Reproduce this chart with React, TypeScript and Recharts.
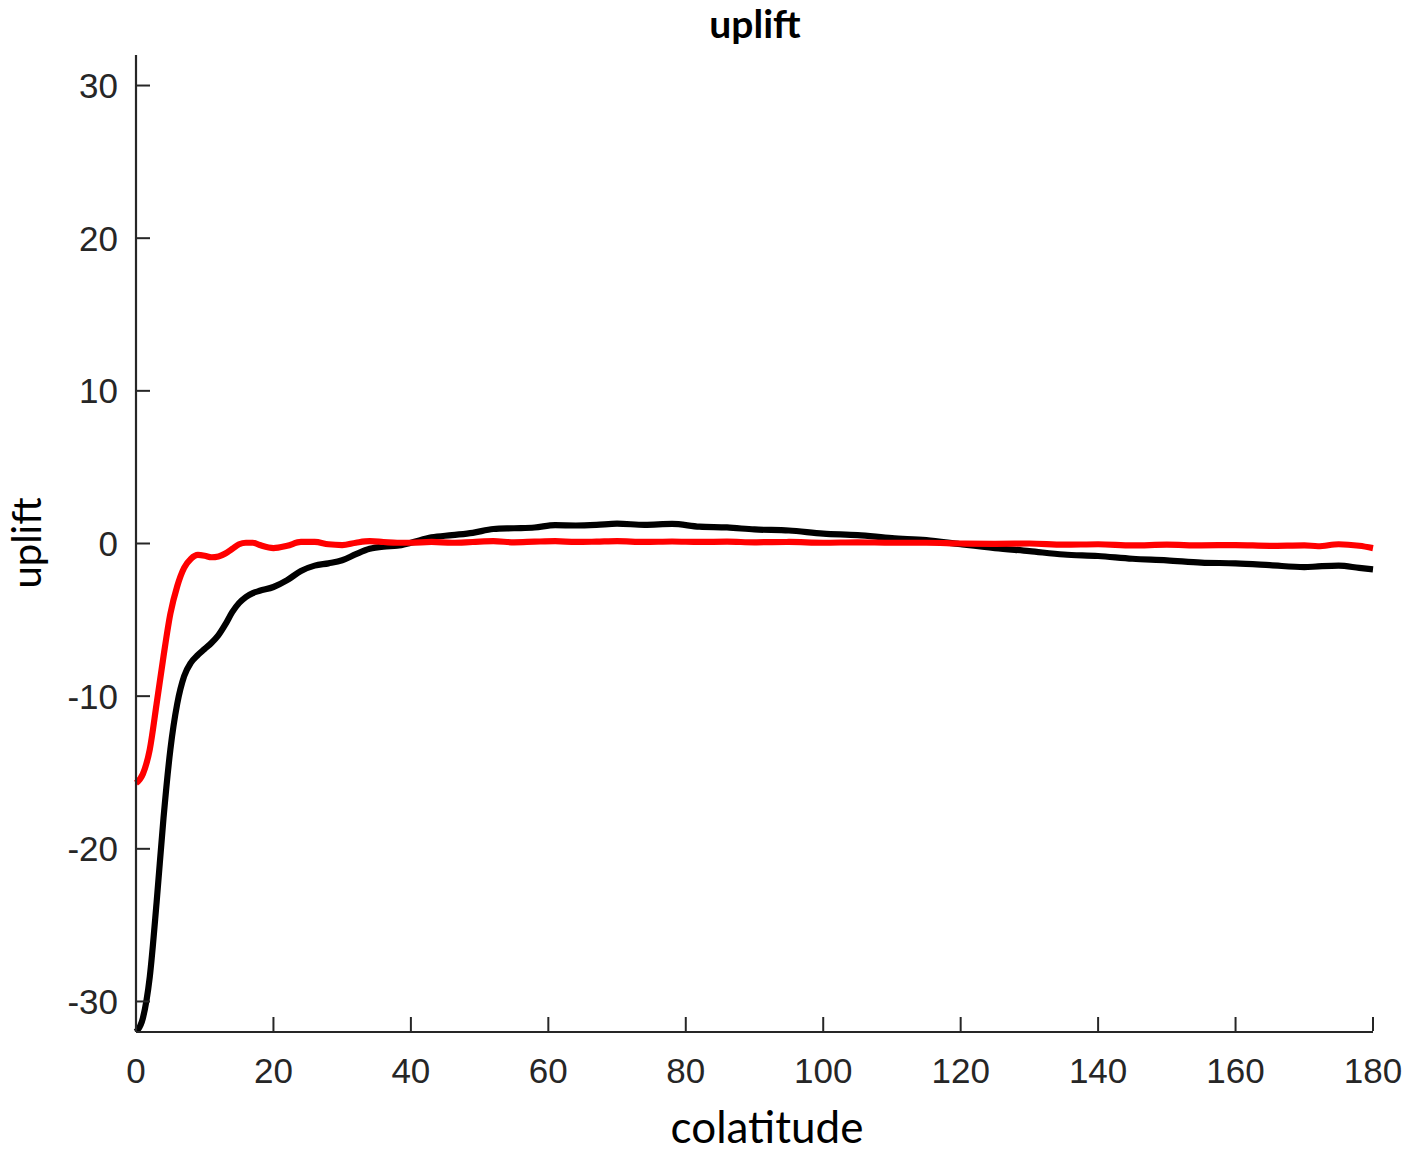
import { LineChart, Line, XAxis, YAxis } from "recharts";

// colatitude sample points (degrees)
const colat = [
  0, 1, 2, 3, 4, 5, 6, 7, 8, 9, 10, 11, 12, 13, 14, 15, 16, 17, 18, 20, 22, 24, 26, 28, 30,
  32, 34, 36, 38, 40, 43, 46, 49, 52, 55, 58, 61, 64, 67, 70, 74, 78, 82, 86, 90, 95, 100,
  105, 110, 115, 120, 125, 130, 135, 140, 145, 150, 155, 160, 165, 170, 172, 175, 178, 180,
];

// black curve
const upliftBlack = [
  -32.0, -31.1, -28.4, -23.5, -18.0, -13.5, -10.5, -8.7, -7.8, -7.3, -6.9, -6.5, -6.0, -5.3,
  -4.5, -3.9, -3.5, -3.25, -3.1, -2.85, -2.4, -1.8, -1.45, -1.3, -1.1, -0.7, -0.35, -0.2,
  -0.15, 0.05, 0.4, 0.55, 0.7, 0.95, 1.0, 1.05, 1.2, 1.18, 1.22, 1.3, 1.22, 1.28, 1.1, 1.05,
  0.92, 0.85, 0.65, 0.55, 0.35, 0.22, -0.05, -0.3, -0.5, -0.72, -0.82, -1.0, -1.1, -1.25,
  -1.3, -1.42, -1.55, -1.5, -1.45, -1.6, -1.7,
];

// red curve
const upliftRed = [
  -15.7, -15.1, -13.5, -10.5, -7.4, -4.6, -2.8, -1.6, -1.0, -0.75, -0.8, -0.9, -0.85, -0.65,
  -0.35, -0.05, 0.05, 0.05, -0.1, -0.3, -0.15, 0.1, 0.1, -0.05, -0.1, 0.05, 0.15, 0.1, 0.05,
  0.05, 0.1, 0.05, 0.1, 0.15, 0.08, 0.12, 0.15, 0.1, 0.12, 0.15, 0.1, 0.13, 0.1, 0.12, 0.08,
  0.1, 0.05, 0.08, 0.05, 0.05, 0.0, -0.02, 0.0, -0.08, -0.05, -0.12, -0.08, -0.12, -0.1,
  -0.15, -0.12, -0.18, -0.05, -0.15, -0.3,
];

const xTicks = [0, 20, 40, 60, 80, 100, 120, 140, 160, 180];
const yTicks = [-30, -20, -10, 0, 10, 20, 30];

const data = colat.map((c, i) => ({ colat: c, black: upliftBlack[i], red: upliftRed[i] }));

const AXIS = "#262626";
const TICK_FONT = "'Liberation Sans', Arial, Helvetica, sans-serif";
const LABEL_FONT = "Lato, 'Open Sans', sans-serif";

// MATLAB style: tick marks point into the plot
const YTick = (props: any) => {
  const { x, y, payload } = props;
  return (
    <g>
      <line x1={x + 18} x2={x + 32} y1={y} y2={y} stroke={AXIS} strokeWidth={2} />
      <text x={x} y={y} dy="0.36em" textAnchor="end" fill={AXIS} fontSize={35} fontFamily={TICK_FONT}>
        {payload.value}
      </text>
    </g>
  );
};

const XTick = (props: any) => {
  const { x, y, payload } = props;
  return (
    <g>
      <line x1={x} x2={x} y1={y - 27} y2={y - 41} stroke={AXIS} strokeWidth={2} />
      <text x={x} y={y} dy="0.72em" textAnchor="middle" fill={AXIS} fontSize={35} fontFamily={TICK_FONT}>
        {payload.value}
      </text>
    </g>
  );
};

export default function App() {
  return (
    <div style={{ position: "absolute", left: 0, top: 0, width: 1410, height: 1153, background: "#fff" }}>
      <LineChart width={1410} height={1153} data={data} margin={{ top: 55, right: 37, bottom: 31, left: 36 }}>
        <XAxis
          dataKey="colat"
          type="number"
          domain={[0, 180]}
          ticks={xTicks}
          interval={0}
          height={90}
          tickSize={0}
          tickMargin={26}
          tick={<XTick />}
          tickLine={false}
          axisLine={{ stroke: AXIS, strokeWidth: 2.2 }}
        />
        <YAxis
          type="number"
          domain={[-32, 32]}
          ticks={yTicks}
          interval={0}
          width={100}
          tickSize={0}
          tickMargin={18}
          tick={<YTick />}
          tickLine={false}
          axisLine={{ stroke: AXIS, strokeWidth: 2.2 }}
          allowDataOverflow
        />
        <Line type="monotone" dataKey="black" stroke="#000000" strokeWidth={6.2} dot={false} isAnimationActive={false} />
        <Line type="monotone" dataKey="red" stroke="#ff0000" strokeWidth={6.2} dot={false} isAnimationActive={false} />
      </LineChart>
      <svg width={1410} height={1153} style={{ position: "absolute", left: 0, top: 0, pointerEvents: "none" }}>
        <text x={755} y={38} textAnchor="middle" fontSize={39} fontWeight="bold" fontFamily={LABEL_FONT} fill="#000">
          uplift
        </text>
        <text x={767} y={1143} textAnchor="middle" fontSize={44} fontFamily={LABEL_FONT} fill="#000">
          colatitude
        </text>
        <text
          x={41}
          y={543}
          transform="rotate(-90 41 543)"
          textAnchor="middle"
          fontSize={40}
          fontFamily={LABEL_FONT}
          fill="#000"
        >
          uplift
        </text>
      </svg>
    </div>
  );
}
